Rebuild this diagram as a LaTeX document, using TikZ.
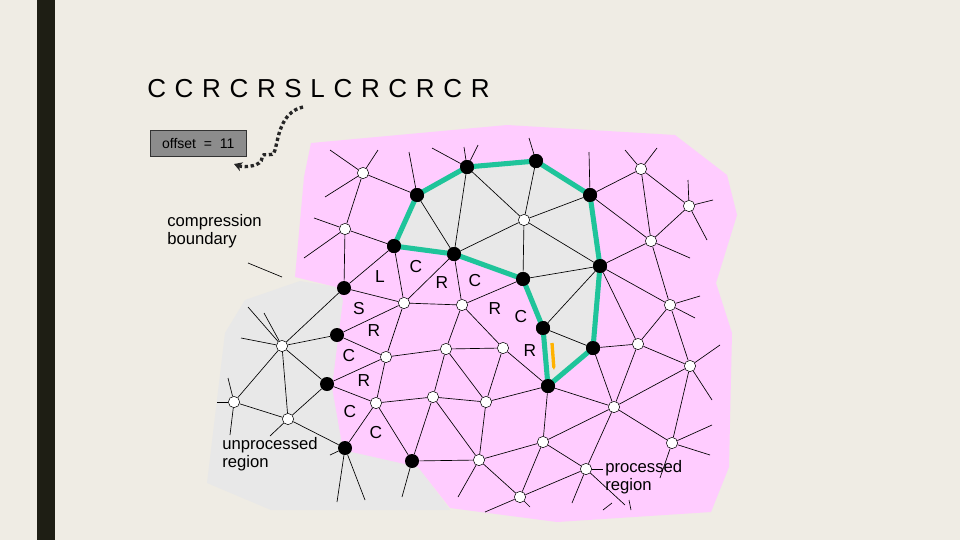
\documentclass[tikz,border=0pt]{standalone}
\usepackage{fontspec}
\setmainfont{Liberation Sans}
\usetikzlibrary{arrows.meta}
\definecolor{bg}{HTML}{EFECE4}
\definecolor{pinkr}{HTML}{FFCCFF}
\definecolor{grayr}{HTML}{E8E8E8}
\definecolor{greenb}{HTML}{1FC49A}
\definecolor{bar}{HTML}{1E1E14}
\tikzset{
 wn/.style={circle,draw=black,fill=white,inner sep=0pt,minimum size=8.5pt,line width=0.4pt},
 bn/.style={circle,fill=black,inner sep=0pt,minimum size=10.5pt},
 ed/.style={line width=0.5pt,black},
 gb/.style={line width=3.8pt,greenb,line join=round},
 lab/.style={font=\fontsize{13}{13}\selectfont,inner sep=0pt},
 txt/.style={font=\fontsize{12.5}{13.5}\selectfont,align=left,inner sep=0pt,anchor=north west}
}
\begin{document}
\begin{tikzpicture}[x=0.75pt,y=-0.75pt]
\fill[bg] (0,0) rectangle (960,540);
\useasboundingbox (0,0) rectangle (960,540);
\fill[bar] (37,0) rectangle (55,540);
% regions
\fill[grayr] (336,287) -- (300,281) -- (245,300) -- (225,333) -- (207,483) -- (271,510) -- (450,510) -- (418,467) -- (343,450) -- (332,387) -- (343,300) -- cycle;
\fill[pinkr] (311,143) -- (507,125) -- (675,135) -- (727,175) -- (737,215) -- (716,283) -- (732,333) -- (729,467) -- (711,512) -- (557,522) -- (450,508) -- (418,467) -- (343,450) -- (332,387) -- (343,300) -- (336,287) -- (295,277) -- (304,177) -- cycle;
\fill[grayr] (394,246) -- (417,195) -- (467,167) -- (536,161) -- (590,195) -- (600,266) -- (593,348) -- (548,386) -- (543,328) -- (523,279) -- (454,254) -- cycle;
% nodes
\foreach \n/\x/\y in {A/394/246,B/417/195,C/467/167,D/536/161,E/590/195,F/600/266,G/593/348,H/548/386,I/543/328,J/523/279,K/454/254,L/344/288,M/337/335,N/327/384,O/345/448,P/412/461}
 \node[bn] (\n) at (\x,\y) {};
\foreach \n/\x/\y in {w1/363/173,w2/345/229,w3/524/220,w4/641/169,w5/689/206,w6/651/241,w7/404/303,w8/462/305,w9/670/305,w10/638/344,w11/690/366,w12/503/348,w13/446/349,w14/386/357,w15/282/346,w16/234/402,w17/288/419,w18/376/403,w19/433/397,w20/486/402,w21/614/407,w22/543/442,w23/672/443,w24/479/460,w25/586/469,w26/520/497}
 \node[wn] (\n) at (\x,\y) {};
\foreach \a/\b in {B/K,C/K,K/w3,C/w3,D/w3,w3/E,w3/F,w3/J,J/F,F/I,I/G,
 A/L,L/w2,w2/w1,w1/B,w2/A,L/w7,A/w7,K/w7,K/w8,w7/w8,w8/J,w8/w12,w12/H,w7/M,w7/w14,M/w14,w8/w13,w14/w13,w13/w12,w13/w19,w14/N,N/w18,w14/w18,w18/w19,w19/w20,w20/H,w12/w20,w18/O,w18/P,w19/P,P/w24,w24/w20,w24/w22,w22/H,w22/w21,H/w21,w21/G,w21/w10,G/w10,w10/F,w10/w9,w9/F,w6/F,w6/E,w6/w5,w4/E,w9/w6,w9/w11,w10/w11,w11/w21,w21/w23,w23/w11,w21/w25,w22/w25,w25/w26,w24/w26,w22/w26,w19/w24,w13/w20,
 L/w15,w15/M,w15/N,w15/w17,w15/w16,w16/w17,w17/N,w17/O,w4/w6,w5/w4}
 \draw[ed] (\a) -- (\b);
% stubs
\foreach \n/\x/\y in {w1/330/150,w1/378/150,w1/325/197,w2/304/258,w2/314/218,B/409/152,C/432/148,C/464/147,C/478/145,D/529/138,E/589/152,w4/625/150,w4/657/148,w5/688/180,w5/713/200,w5/707/240,w6/690/258,w9/695/318,w9/700/296,w11/720/345,w11/712/400,w23/712/425,w23/710/455,w23/660/478,w26/485/512,w26/530/507,w25/572/503,w25/625/505,w24/458/497,P/402/497,O/337/502,O/365/500,O/330/455,w16/217/402,w16/228/378,w16/230/435,w15/264/313,w15/241/338,w15/248/307,w17/270/436}
 \draw[ed] (\n) -- (\x,\y);
\draw[ed] (248,263) -- (282,277);
\draw[ed] (w25) -- (603,469);
\draw[ed] (603,510) -- (612,503);
\draw[ed] (629,500) -- (631,510);
% boundary
\draw[gb] (A.center) -- (B.center) -- (C.center) -- (D.center) -- (E.center) -- (F.center) -- (G.center) -- (H.center) -- (I.center) -- (J.center) -- (K.center) -- cycle;
\foreach \n in {A,B,C,D,E,F,G,H,I,J,K} \fill (\n) circle (5.25pt);
\draw[line width=2.5pt,orange!60!yellow,-{Stealth[length=3pt]}] (552,343) -- (554,370);
% labels
\foreach \t/\x/\y in {L/380/277,C/416/267,R/442/283,C/475/281,S/359/309,R/495/309,C/521/317,R/374/331,C/349/356,R/530/351,R/364/381,C/350/412,C/376/433}
 \node[lab] (l\x) at (\x,\y) {\t};
% texts
\node[anchor=west,inner sep=0pt,font=\fontsize{19.5}{19}\selectfont] (top) at (147,89) {C\,\,C\,\,R\,\,C\,\,R\,\,S\,\,L\,\,C\,\,R\,\,C\,\,R\,\,C\,\,R};
\node[draw=black!80,fill=black!45,anchor=north west,minimum width=72pt,minimum height=19.5pt,inner sep=0pt,font=\fontsize{10.5}{10}\selectfont] (off) at (150,130) {offset~ =~ 11};
\draw[line width=2.5pt,black!85,dotted,-{Stealth[length=6pt,width=7pt]}] (303,107) .. controls (280,112) and (278,140) .. (275,150) .. controls (273,160) and (262,150) .. (262,158) .. controls (262,166) and (245,168) .. (234,164);
\node[txt] (cb) at (167,214) {compression\\boundary};
\node[txt] (ur) at (222,437) {unprocessed\\region};
\node[txt] (pr) at (605,460) {processed\\region};
\end{tikzpicture}
\end{document}
